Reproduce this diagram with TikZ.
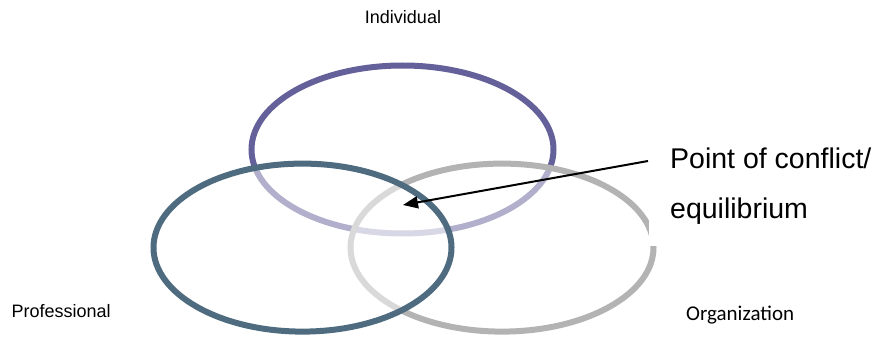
\documentclass[tikz,border=0pt]{standalone}
\usepackage{fontspec}
\setmainfont{Liberation Sans}
\newfontfamily\calfont{Carlito}
\usetikzlibrary{arrows.meta}
\definecolor{indcol}{HTML}{64609A}
\definecolor{procol}{HTML}{4E6B7F}
\definecolor{orgcol}{HTML}{B3B3B3}
\tikzset{
  ring/.style={line width=6pt, fill=white, fill opacity=0.5, draw opacity=1},
  lbl/.style={inner sep=0pt, text=black},
  pointer/.style={line width=2pt, -{Triangle[length=15pt,width=12pt]}}
}
\begin{document}
\begin{tikzpicture}[x=1pt,y=-1pt]
\useasboundingbox (0,0) rectangle (879,337);
% Individual (bottom layer)
\draw[line width=6pt, draw=indcol] (402.5,149.5) ellipse [x radius=151pt, y radius=84pt];
% Organization
\draw[ring, draw=orgcol] (502,247.6) ellipse [x radius=151.5pt, y radius=84pt];
% Professional (top layer)
\draw[ring, draw=procol] (302.5,247.6) ellipse [x radius=149pt, y radius=84pt];
% text box background covering the right of the organization ring
\fill[white] (649,120) rectangle (879,246);
% labels
\node[lbl, anchor=base, font=\fontsize{18}{21}\selectfont] (ind) at (403,23.3) {Individual};
\node[lbl, anchor=base west, font=\fontsize{18}{21}\selectfont] (pro) at (11.5,317.3) {Professional};
\node[lbl, anchor=base west, font=\calfont\fontsize{21}{25}\selectfont] (org) at (686,320) {Organization};
\node[lbl, anchor=base west, font=\fontsize{28.5}{34}\selectfont] (conf1) at (670,168) {Point of conflict/};
\node[lbl, anchor=base west, font=\fontsize{28.5}{34}\selectfont] (conf2) at (670,218) {equilibrium};
% arrow
\coordinate (tail) at (648,161);
\coordinate (tip) at (403,205);
\draw[pointer] (tail) -- (tip);
\end{tikzpicture}
\end{document}
